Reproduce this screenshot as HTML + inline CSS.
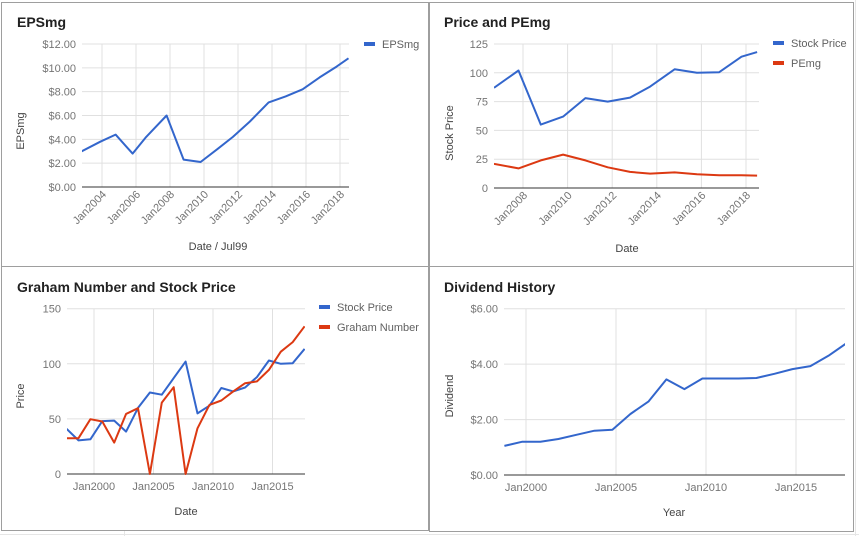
<!DOCTYPE html>
<html><head><meta charset="utf-8">
<style>
html,body{margin:0;padding:0;background:#fff;}
svg{display:block;font-family:"Liberation Sans",Arial,sans-serif;}
</style></head>
<body>
<svg id="root" width="859" height="536" viewBox="0 0 859 536">
<rect x="0" y="0" width="859" height="536" fill="#fff"/>
<g stroke="#e6e6e6" stroke-width="1">
<line x1="0" y1="534.5" x2="859" y2="534.5"/>
<line x1="124.5" y1="530" x2="124.5" y2="536"/>
<line x1="855.5" y1="0" x2="855.5" y2="536"/>
</g>
<rect x="1.5" y="2.5" width="427" height="264" fill="#fff" stroke="#9e9e9e"/>
<rect x="429.5" y="2.5" width="424" height="264" fill="#fff" stroke="#9e9e9e"/>
<rect x="1.5" y="266.5" width="427" height="264" fill="#fff" stroke="#9e9e9e"/>
<rect x="429.5" y="266.5" width="424" height="265" fill="#fff" stroke="#9e9e9e"/>
</svg>
<script>
// ---- data ----
const epsYears = [2002.8,2003.9,2004.8,2005.8,2006.6,2007.8,2008.8,2009.8,2010.8,2011.7,2012.7,2013.8,2014.8,2015.8,2016.8,2017.8,2018.5];
const epsValues = [3.0,3.8,4.4,2.8,4.2,6.0,2.3,2.1,3.2,4.2,5.5,7.1,7.6,8.2,9.2,10.1,10.8];
const epsTicks = [0,2,4,6,8,10,12];
const epsXTicks = [2004,2006,2008,2010,2012,2014,2016,2018];

const pYears = [2006.7,2007.8,2008.8,2009.8,2010.8,2011.8,2012.8,2013.7,2014.8,2015.8,2016.8,2017.8,2018.5];
const pStock = [87,102,55,62,78,75,78.5,88,103,100,100.5,114,118];
const pPEmg = [21,17,24,29,24,18,14,12.5,13.5,12,11,11,10.8];
const pTicks = [0,25,50,75,100,125];
const pXTicks = [2008,2010,2012,2014,2016,2018];

const gYears = [1997.7,1998.7,1999.7,2000.7,2001.7,2002.7,2003.7,2004.7,2005.7,2006.7,2007.7,2008.7,2009.7,2010.7,2011.7,2012.7,2013.7,2014.7,2015.7,2016.7,2017.7];
const gStock = [41,30.5,31.5,48,48.5,38.5,60,74,72,87,102,55,62,78,75,78.5,88,103,100,100.5,113.5];
const gGraham = [32.5,32.5,49.7,47.6,28.5,54.5,59.7,0,64.8,78.8,0,41.5,62.7,66.7,75,82.4,84,94.5,111,119.7,134];
const gTicks = [0,50,100,150];
const gXTicks = [2000,2005,2010,2015];

const dYears = [1998.8,1999.8,2000.8,2001.8,2002.8,2003.8,2004.8,2005.8,2006.8,2007.8,2008.8,2009.8,2010.8,2011.8,2012.8,2013.8,2014.8,2015.8,2016.8,2017.8];
const dValues = [1.05,1.2,1.2,1.3,1.45,1.6,1.63,2.2,2.65,3.45,3.1,3.48,3.48,3.48,3.5,3.65,3.82,3.93,4.3,4.75];
const dTicks = [0,2,4,6];
const dXTicks = [2000,2005,2010,2015];

const NS = "http://www.w3.org/2000/svg";
const root = document.getElementById('root');
function mk(tag, attrs, parent){
  const e = document.createElementNS(NS, tag);
  for (const k in attrs) e.setAttribute(k, attrs[k]);
  (parent||root).appendChild(e);
  return e;
}
function chart(o){
  const g = mk('g', {});
  
  
  const xs = v => o.x0 + (v - o.xmin) / (o.xmax - o.xmin) * (o.x1 - o.x0);
  const ys = v => o.y0 - (v - o.ymin) / (o.ymax - o.ymin) * (o.y0 - o.y1);
  const t = mk('text', {x:o.tx, y:o.ty, 'font-size':14, 'font-weight':'bold', fill:'#222'}, g);
  t.textContent = o.title;
  
  
  o.yticks.forEach(v => {
    const y = ys(v);
    const l = mk('line', {x1:o.x0, x2:o.x1, y1:y, y2:y, stroke:'#e0e0e0'}, g);
    
    
    const lt = mk('text', {x:o.x0-6, y:y+4, 'font-size':11, fill:'#757575', 'text-anchor':'end'}, g);
    lt.textContent = o.yfmt(v);
    
    
  });
  o.xticks.forEach(v => {
    const x = xs(v);
    const l = mk('line', {x1:x, x2:x, y1:o.y1, y2:o.y0, stroke:'#e0e0e0'}, g);
    
    
    let lt;
    if (o.rot) {
      lt = mk('text', {x:x+5, y:o.y0+8, 'font-size':11, fill:'#757575', 'text-anchor':'end', transform:'rotate(-45 '+(x+5)+' '+(o.y0+8)+')'}, g);
    } else {
      lt = mk('text', {x:x, y:o.y0+16, 'font-size':11, fill:'#757575', 'text-anchor':'middle'}, g);
    }
    lt.textContent = 'Jan' + v;
    
    
  });
  const base = mk('line', {x1:o.x0, x2:o.x1, y1:o.y0, y2:o.y0, stroke:'#333', 'stroke-width':1}, g);
  
  
  const cp = 'clip-' + o.name;
  const cl = mk('clipPath', {id:cp}, g);
  mk('rect', {x:o.x0, y:o.y1-10, width:o.x1-o.x0, height:o.y0-o.y1+12}, cl);
  o.series.forEach((s, i) => {
    const pts = s.xs.map((xv, j) => xs(xv).toFixed(1) + ',' + ys(s.ys[j]).toFixed(1)).join(' ');
    const pl = mk('polyline', {points:pts, fill:'none', stroke:s.color, 'stroke-width':2, 'stroke-linejoin':'round', 'clip-path':'url(#'+cp+')'}, g);
    
    
    if (o.legend) {
      const lg = mk('g', {}, g);
      
      
      const ly = o.legend.y + i * 20;
      mk('rect', {x:o.legend.x, y:ly-3, width:11, height:4, fill:s.color}, lg);
      const ltx = mk('text', {x:o.legend.x+18, y:ly+3, 'font-size':11, fill:'#616161'}, lg);
      ltx.textContent = s.label;
    }
  });
  const xt = mk('text', {x:o.xtx, y:o.xty, 'font-size':11, fill:'#444', 'text-anchor':'middle'}, g);
  xt.textContent = o.xtitle;
  
  
  const yt = mk('text', {x:o.ytx, y:o.yty, 'font-size':11, fill:'#444', 'text-anchor':'middle', transform:'rotate(-90 '+o.ytx+' '+o.yty+')'}, g);
  yt.textContent = o.ytitle;
  
  
}
const money = v => '$' + v.toFixed(2);
const plain = v => String(v);
// year->px calibrated from gridlines
chart({name:'epsmg-chart', title:'EPSmg', tx:17, ty:27,
  x0:82, x1:349, xmin:2004-(102-82)/17, xmax:2004+(349-102)/17, y0:187, y1:44, ymin:0, ymax:12,
  yticks:epsTicks, yfmt:money, xticks:epsXTicks, rot:true,
  series:[{id:'epsmg', label:'EPSmg', color:'#3366cc', xs:epsYears, ys:epsValues}],
  legend:{x:364, y:45}, xtitle:'Date / Jul99', xtx:218, xty:250, ytitle:'EPSmg', ytx:24, yty:131});
chart({name:'price-pemg-chart', title:'Price and PEmg', tx:444, ty:27,
  x0:494, x1:759, xmin:2008-(523-494)/22.3, xmax:2008+(759-523)/22.3, y0:188, y1:44, ymin:0, ymax:125,
  yticks:pTicks, yfmt:plain, xticks:pXTicks, rot:true,
  series:[{id:'stock-price', label:'Stock Price', color:'#3366cc', xs:pYears, ys:pStock},
          {id:'pemg', label:'PEmg', color:'#dc3912', xs:pYears, ys:pPEmg}],
  legend:{x:773, y:44}, xtitle:'Date', xtx:627, xty:252, ytitle:'Stock Price', ytx:453, yty:133});
chart({name:'graham-chart', title:'Graham Number and Stock Price', tx:17, ty:292,
  x0:67, x1:305, xmin:2000-(94-67)/11.9, xmax:2000+(305-94)/11.9, y0:474, y1:308.7, ymin:0, ymax:150,
  yticks:gTicks, yfmt:plain, xticks:gXTicks, rot:false,
  series:[{id:'stock-price', label:'Stock Price', color:'#3366cc', xs:gYears, ys:gStock},
          {id:'graham-number', label:'Graham Number', color:'#dc3912', xs:gYears, ys:gGraham}],
  legend:{x:319, y:308}, xtitle:'Date', xtx:186, xty:515, ytitle:'Price', ytx:24, yty:396});
chart({name:'dividend-chart', title:'Dividend History', tx:444, ty:292,
  x0:504, x1:845, xmin:2000-(526-504)/18, xmax:2000+(845-526)/18, y0:475, y1:308.7, ymin:0, ymax:6,
  yticks:dTicks, yfmt:money, xticks:dXTicks, rot:false,
  series:[{id:'dividend', label:'Dividend', color:'#3366cc', xs:dYears, ys:dValues}],
  legend:null, xtitle:'Year', xtx:674, xty:516, ytitle:'Dividend', ytx:453, yty:396});
</script>
</body></html>
